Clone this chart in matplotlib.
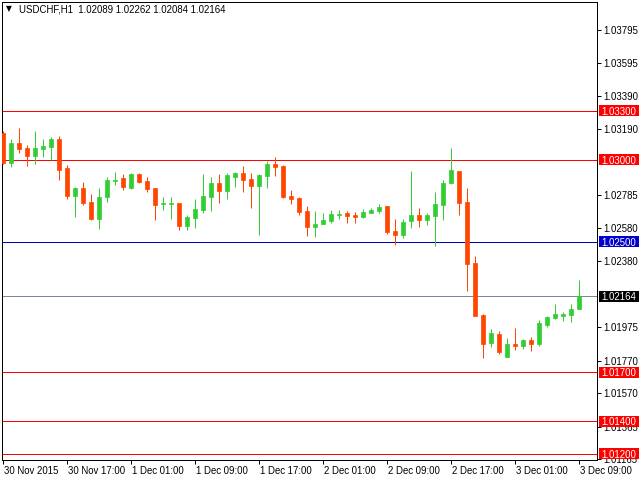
import matplotlib
matplotlib.use("Agg")
import matplotlib.pyplot as plt
import matplotlib.transforms as mtransforms
from matplotlib.patches import Rectangle
import numpy as np

plt.rcParams['font.family'] = ['Liberation Sans', 'DejaVu Sans']

symbol = "USDCHF,H1"

opens = [1.03167, 1.02979, 1.03104, 1.03073, 1.03026, 1.03069, 1.03081, 1.03128, 1.02951, 1.02781,
         1.02828, 1.02742, 1.02640, 1.02775, 1.02871, 1.02889, 1.02828, 1.02914, 1.02871, 1.02828,
         1.02730, 1.02730, 1.02736, 1.02597, 1.02646, 1.02695, 1.02775, 1.02859, 1.02811, 1.02897,
         1.02920, 1.02883, 1.02842, 1.02903, 1.02975, 1.02963, 1.02779, 1.02769, 1.02687, 1.02591,
         1.02609, 1.02628, 1.02662, 1.02675, 1.02662, 1.02650, 1.02675, 1.02687, 1.02718, 1.02564,
         1.02540, 1.02628, 1.02662, 1.02632, 1.02656, 1.02724, 1.02859, 1.02932, 1.02742, 1.02368,
         1.02050, 1.01880, 1.01933, 1.01794, 1.01872, 1.01861, 1.01896, 1.01874, 1.01990, 1.02033,
         1.02045, 1.02051, 1.02089]
highs = [1.03177, 1.03128, 1.03196, 1.03092, 1.03176, 1.03128, 1.03141, 1.03147, 1.02969, 1.02834,
         1.02865, 1.02791, 1.02828, 1.02895, 1.02926, 1.02914, 1.02920, 1.02920, 1.02895, 1.02830,
         1.02773, 1.02773, 1.02738, 1.02662, 1.02761, 1.02914, 1.02895, 1.02914, 1.02920, 1.02926,
         1.02963, 1.02920, 1.02914, 1.02994, 1.03018, 1.02969, 1.02816, 1.02775, 1.02718, 1.02687,
         1.02675, 1.02693, 1.02693, 1.02687, 1.02681, 1.02699, 1.02705, 1.02730, 1.02720, 1.02638,
         1.02638, 1.02932, 1.02705, 1.02675, 1.02803, 1.02877, 1.03073, 1.02935, 1.02828, 1.02411,
         1.02056, 1.01964, 1.01951, 1.01909, 1.01970, 1.01902, 1.01915, 1.02019, 1.02043, 1.02117,
         1.02068, 1.02117, 1.02262]
lows = [1.02975, 1.02959, 1.03044, 1.02965, 1.02977, 1.03020, 1.02998, 1.02879, 1.02762, 1.02652,
        1.02726, 1.02634, 1.02579, 1.02744, 1.02846, 1.02814, 1.02822, 1.02861, 1.02805, 1.02634,
        1.02695, 1.02640, 1.02572, 1.02572, 1.02585, 1.02677, 1.02689, 1.02738, 1.02762, 1.02836,
        1.02805, 1.02707, 1.02542, 1.02830, 1.02903, 1.02769, 1.02732, 1.02664, 1.02534, 1.02529,
        1.02605, 1.02615, 1.02640, 1.02615, 1.02615, 1.02644, 1.02672, 1.02675, 1.02548, 1.02479,
        1.02522, 1.02585, 1.02589, 1.02603, 1.02472, 1.02632, 1.02853, 1.02662, 1.02197, 1.02043,
        1.01788, 1.01855, 1.01812, 1.01790, 1.01837, 1.01843, 1.01831, 1.01861, 1.01978, 1.02027,
        1.02015, 1.02008, 1.02084]
closes = [1.02979, 1.03104, 1.03069, 1.03026, 1.03073, 1.03085, 1.03128, 1.02940, 1.02781, 1.02828,
          1.02738, 1.02640, 1.02773, 1.02877, 1.02877, 1.02832, 1.02914, 1.02867, 1.02824, 1.02726,
          1.02734, 1.02734, 1.02597, 1.02650, 1.02699, 1.02779, 1.02859, 1.02811, 1.02908, 1.02920,
          1.02879, 1.02842, 1.02908, 1.02975, 1.02959, 1.02775, 1.02762, 1.02683, 1.02591, 1.02607,
          1.02632, 1.02669, 1.02669, 1.02656, 1.02650, 1.02681, 1.02693, 1.02712, 1.02560, 1.02540,
          1.02620, 1.02662, 1.02632, 1.02662, 1.02730, 1.02859, 1.02938, 1.02738, 1.02364, 1.02045,
          1.01874, 1.01939, 1.01825, 1.01872, 1.01861, 1.01896, 1.01874, 1.02000, 1.02037, 1.02056,
          1.02056, 1.02086, 1.02164]

date_labels = ["30 Nov 2015", "30 Nov 17:00", "1 Dec 01:00", "1 Dec 09:00", "1 Dec 17:00",
               "2 Dec 01:00", "2 Dec 09:00", "2 Dec 17:00", "3 Dec 01:00", "3 Dec 09:00"]
date_label_idx = [0, 8, 16, 24, 32, 40, 48, 56, 64, 72]

price_ticks = [1.03795, 1.03595, 1.03390, 1.03190, 1.02785, 1.02580, 1.02380,
               1.01975, 1.01770, 1.01570, 1.01365, 1.01165]

red_levels = [1.03300, 1.03000, 1.01700, 1.01400, 1.01200]
blue_levels = [1.02500]
bid_price = closes[-1]

BULL = '#32CD32'
BEAR = '#FF4500'
LW = 0.72  # ~1 px

W, H = 640, 480
fig = plt.figure(figsize=(6.4, 4.8), dpi=100)
fig.patch.set_facecolor('white')
# chart frame in pixels: x 2..597, y 2..460
ax = fig.add_axes([2 / W, 1 - 460 / H, 595 / W, 458 / H])
ax.set_facecolor('white')

n = len(opens)
idx = np.arange(n)
o = np.array(opens); h = np.array(highs); l = np.array(lows); c = np.array(closes)
bull = c >= o
cols = np.where(bull, BULL, BEAR)

ax.vlines(idx, l, h, colors=cols, linewidth=LW, zorder=3)
ax.bar(idx, np.abs(c - o), bottom=np.minimum(o, c), width=0.56, color=cols,
       edgecolor=cols, linewidth=0.5, zorder=4)

for v in red_levels:
    ax.axhline(v, color='#FF0000', linewidth=LW, zorder=2)
for v in blue_levels:
    ax.axhline(v, color='#0000B0', linewidth=LW, zorder=2)
ax.axhline(bid_price, color='#778899', linewidth=LW, zorder=2)

ax.set_xlim(-0.125, 74.25)
ax.set_ylim(1.01161, 1.03968)

for s in ax.spines.values():
    s.set_color('black')
    s.set_linewidth(LW)

ax.yaxis.tick_right()
ax.set_yticks(price_ticks)
ax.set_yticklabels([f"{v:.5f}" for v in price_ticks])
ax.tick_params(axis='y', direction='out', length=3, width=LW, pad=1.5,
               labelsize=6.9, colors='black')

ax.set_xticks(date_label_idx)
ax.set_xticklabels(date_labels)
for t in ax.get_xticklabels():
    t.set_horizontalalignment('left')
ax.tick_params(axis='x', direction='out', length=3, width=LW, pad=1.0,
               labelsize=6.9, colors='black')
# shift x tick labels slightly right of the tick
offset = mtransforms.ScaledTranslation(1 / 100, 0, fig.dpi_scale_trans)
for t in ax.get_xticklabels():
    t.set_transform(t.get_transform() + offset)

# price label boxes on the right axis
lab_trans = mtransforms.blended_transform_factory(fig.transFigure, ax.transData)
boxes = [(v, '#FF0000', 'white') for v in red_levels] + \
        [(v, '#0000CD', 'white') for v in blue_levels] + \
        [(bid_price, 'black', 'white')]
for v, fc, tc in boxes:
    anchor = mtransforms.ScaledTranslation(599 / W, v, lab_trans)
    rect = Rectangle((0, -5.5 / 100), 40 / 100, 11 / 100,
                     transform=fig.dpi_scale_trans + anchor,
                     facecolor=fc, edgecolor='none', zorder=5)
    fig.add_artist(rect)
    fig.text(619 / W, v, f"{v:.5f}", transform=lab_trans, ha='center',
             va='center_baseline', color=tc, fontsize=6.9, zorder=6)

# header
fig.text(8.7 / W, 1 - 8.8 / H, "\u25BC", fontsize=5.5, family='DejaVu Sans',
         ha='center', va='center', color='black')
fig.text(19 / W, 1 - 9.5 / H,
         f"{symbol}  {opens[-1]:.5f} {highs[-1]:.5f} {lows[-1]:.5f} {closes[-1]:.5f}",
         fontsize=6.9, ha='left', va='center', color='black')

fig.savefig("out.png", dpi=100)
